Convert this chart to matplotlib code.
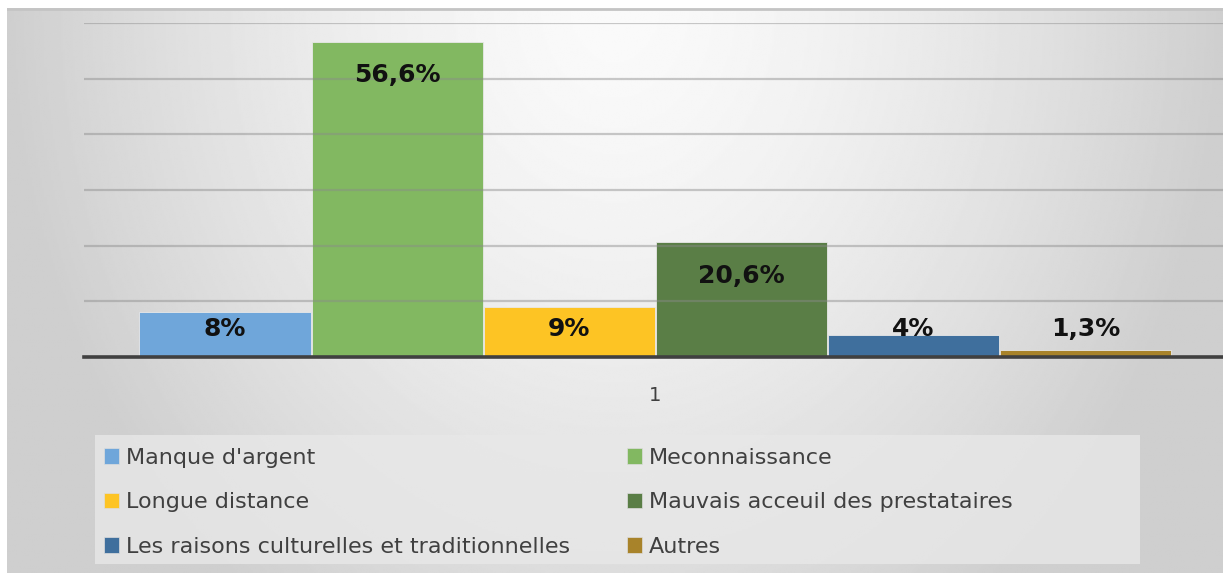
import numpy as np
from matplotlib import pyplot as plt
from matplotlib.patches import Rectangle

plt.rcParams['font.family'] = ['DejaVu Sans']

categories = ["Manque d'argent", "Meconnaissance", "Longue distance",
              "Mauvais acceuil des prestataires",
              "Les raisons culturelles et traditionnelles", "Autres"]
values = [8, 56.6, 9, 20.6, 4, 1.3]
value_labels = ["8%", "56,6%", "9%", "20,6%", "4%", "1,3%"]
colors = ["#6fa6da", "#82b861", "#fdc424", "#5a7e46", "#3f6f9d", "#a8832a"]
group_label = "1"

W, H = 1223, 573
fig = plt.figure(figsize=(W / 100, H / 100), dpi=100)
fig.patch.set_facecolor("white")

# gradient background of the chart area
bg = fig.add_axes([7 / W, 0, 1 - 7 / W, 1 - 8 / H])
yy, xx = np.mgrid[0:1:300j, 0:1:600j]
r = np.sqrt(((xx - 0.5) / 0.5) ** 2 + (yy / 1.3) ** 2)
shade = 0.98 - 0.17 * np.clip(r, 0, 1) ** 1.5
bg.imshow(shade, cmap="gray", vmin=0, vmax=1, aspect="auto",
          extent=[0, 1, 1, 0], interpolation="bilinear")
bg.set_xlim(0, 1)
bg.set_ylim(1, 0)
bg.axhline(0.002, color="#c4c4c4", lw=2)
bg.axis("off")

# main plot
ax = fig.add_axes([84 / W, (573 - 357) / H, (1223 - 84) / W, 334 / H])
ax.patch.set_alpha(0)
n = len(values)
x = np.arange(n) - (n - 1) / 2
ax.bar(x, values, width=0.995, color=colors, edgecolor="#e8e8e8",
       linewidth=0.6, zorder=2)
ax.set_xlim(-3.32, 3.30)
ax.set_ylim(0, 60)
ax.set_yticks(np.arange(10, 61, 10))
ax.yaxis.grid(True, color="#8a8a8a", alpha=0.45, lw=1.6, zorder=3)
ax.set_axisbelow(False)
ax.tick_params(axis="y", left=False, labelleft=False)
ax.set_xticks([0])
ax.set_xticklabels([group_label], fontsize=14, color="#404040")
ax.tick_params(axis="x", length=0, pad=21)
for s in ["top", "right", "left"]:
    ax.spines[s].set_visible(False)
ax.spines["bottom"].set_color("#404040")
ax.spines["bottom"].set_linewidth(2.6)
ax.spines["bottom"].set_zorder(4)

for xi, v, lab in zip(x, values, value_labels):
    ax.text(xi, max(v - 6.0, 5.0), lab, ha="center", va="center",
            fontsize=18, fontweight="bold", color="#111111", zorder=5)

# legend box
fig.patches.append(Rectangle((95 / W, (573 - 564) / H), (1140 - 95) / W,
                             (564 - 435) / H, transform=fig.transFigure,
                             facecolor="#e8e8e8", edgecolor="none",
                             alpha=0.8, zorder=1))
handles = [Rectangle((0, 0), 1, 1, facecolor=c, edgecolor="#dddddd", lw=0.5)
           for c in colors]
# two columns, filled row by row
for col, x0 in enumerate([88, 611]):
    idx = list(range(col, n, 2))
    fig.legend([handles[i] for i in idx], [categories[i] for i in idx],
               loc="upper left", bbox_to_anchor=(x0 / W, (573 - 432) / H),
               frameon=False, fontsize=16, labelcolor="#404040",
               handlelength=0.7, handleheight=0.7, handletextpad=0.3,
               labelspacing=1.11, borderpad=0.2)

fig.savefig("out.png", dpi=100)
